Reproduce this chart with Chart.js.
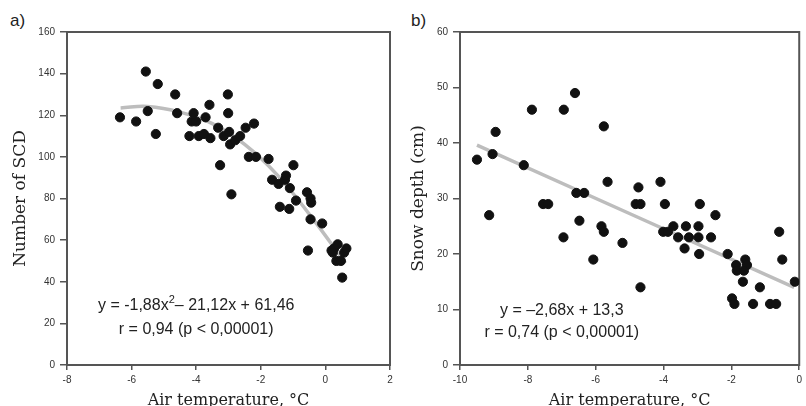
<!DOCTYPE html>
<html>
<head>
<meta charset="utf-8">
<script src="https://cdn.jsdelivr.net/npm/chart.js@4.4.0/dist/chart.umd.min.js"></script>
<style>
body { margin: 0; background: #fff; width: 806px; height: 406px; overflow: hidden; position: relative; font-family: "Liberation Sans", Arial, sans-serif; }
canvas { position: absolute; top: 0; }
#chartA { left: 0; }
#chartB { left: 400px; }
.tag { position: absolute; font-size: 17px; color: #222; }
</style>
</head>
<body>
<div class="tag" style="left:10px;top:11px">a)</div>
<div class="tag" style="left:411px;top:11px">b)</div>
<canvas id="chartA" width="400" height="406"></canvas>
<canvas id="chartB" width="406" height="406"></canvas>
<script>
// panel a: number of snow cover days vs air temperature
const tempA = [-6.36, -5.86, -5.56, -5.50, -5.25, -5.19, -4.65, -4.59, -4.21, -4.14,
  -4.08, -4.00, -3.92, -3.76, -3.71, -3.59, -3.56, -3.32, -3.26, -3.15,
  -3.02, -3.01, -2.98, -2.95, -2.91, -2.79, -2.64, -2.47, -2.37, -2.21,
  -2.15, -1.76, -1.65, -1.45, -1.41, -1.25, -1.22, -1.12, -1.10, -0.99,
  -0.91, -0.57, -0.46, -0.44, -0.46, -0.10, -0.54, 0.19, 0.27, 0.38,
  0.23, 0.34, 0.48, 0.58, 0.65, 0.52]
const scdA = [119, 117, 141, 122, 111, 135, 130, 121, 110, 117,
  121, 117, 110, 111, 119, 125, 109, 114, 96, 110,
  130, 121, 112, 106, 82, 108, 110, 114, 100, 116,
  100, 99, 89, 87, 76, 89, 91, 75, 85, 96,
  79, 83, 80, 78, 70, 68, 55, 55, 56, 58,
  54, 50, 50, 54, 56, 42]
// fitted curve
const curveAX = [-6.34, -5.5, -4.5, -3.5, -2.5, -1.5, -0.5, 0.62]
const curveAY = [123.5, 124.2, 121.5, 116, 106, 91.5, 72.5, 49]
const eqA = ['y = -1,88x', '2', '– 21,12x + 61,46']
const rA = 'r = 0,94 (p < 0,00001)'

// panel b: snow depth vs air temperature
const tempB = [-9.50, -9.14, -9.04, -8.95, -8.12, -7.88, -7.55, -7.40, -6.94, -6.61,
  -6.57, -6.34, -6.48, -5.76, -5.65, -6.95, -5.83, -5.76, -6.07, -5.21,
  -4.82, -4.74, -4.68, -4.68, -4.09, -3.96, -4.01, -3.87, -3.71, -3.57,
  -3.38, -3.34, -3.25, -2.97, -2.97, -2.95, -2.93, -2.60, -2.47, -2.11,
  -1.86, -1.84, -1.59, -1.54, -1.63, -1.66, -1.98, -1.91, -1.36, -1.16,
  -0.86, -0.68, -0.59, -0.50, -0.13]
const depthB = [37, 27, 38, 42, 36, 46, 29, 29, 46, 49,
  31, 31, 26, 43, 33, 23, 25, 24, 19, 22,
  29, 32, 29, 14, 33, 29, 24, 24, 25, 23,
  21, 25, 23, 25, 23, 20, 29, 23, 27, 20,
  18, 17, 19, 18, 17, 15, 12, 11, 11, 14,
  11, 11, 24, 19, 15]
const lineBX = [-9.5, -0.15]
const lineBY = [39.6, 14.0]
const eqB = ['y = –2,68x + 13,3']
const rB = 'r = 0,74 (p < 0,00001)'

const toPoints = (xs, ys) => xs.map((x, i) => ({ x: x, y: ys[i] }))

// frame round the plot area + the equation text
const boxAndText = {
  id: 'boxAndText',
  beforeDatasetsDraw(chart) {
    const { ctx, chartArea: a } = chart
    ctx.save()
    ctx.strokeStyle = '#555'
    ctx.lineWidth = 2
    ctx.strokeRect(a.left, a.top, a.right - a.left, a.bottom - a.top)
    ctx.restore()
  },
  afterDatasetsDraw(chart, args, opts) {
    const { ctx, scales } = chart
    ctx.save()
    ctx.fillStyle = '#222'
    ctx.textBaseline = 'middle'
    const big = '16px "Liberation Sans", Arial, sans-serif'
    const small = '11px "Liberation Sans", Arial, sans-serif'
    opts.lines.forEach(line => {
      const cx = scales.x.getPixelForValue(line.x)
      const cy = scales.y.getPixelForValue(line.y)
      const widths = line.parts.map((p, i) => {
        ctx.font = i % 2 ? small : big
        return ctx.measureText(p).width
      })
      let x = cx - widths.reduce((s, w) => s + w, 0) / 2
      line.parts.forEach((p, i) => {
        ctx.font = i % 2 ? small : big
        ctx.fillText(p, x, i % 2 ? cy - 6 : cy)
        x += widths[i]
      })
    })
    ctx.restore()
  }
}

const tickFont = { family: '"Liberation Sans", Arial, sans-serif', size: 10 }
const titleFont = { family: '"DejaVu Serif", serif', size: 16 }

function makeChart(id, cfg) {
  return new Chart(document.getElementById(id), {
    type: 'scatter',
    data: {
      datasets: [{
        data: cfg.points,
        backgroundColor: '#111',
        borderColor: '#111',
        pointRadius: 4.6,
        pointHoverRadius: 4.6,
        order: 0
      }, {
        data: cfg.fit,
        showLine: true,
        borderColor: '#bdbdbd',
        borderWidth: 3.5,
        pointRadius: 0,
        tension: 0.4,
        order: 1
      }]
    },
    options: {
      responsive: false,
      animation: false,
      layout: { padding: { left: 0, right: cfg.padRight, top: 32, bottom: 0 } },
      plugins: {
        legend: { display: false },
        tooltip: { enabled: false },
        boxAndText: { lines: cfg.lines }
      },
      scales: {
        x: {
          type: 'linear',
          min: cfg.xMin, max: cfg.xMax,
          ticks: { stepSize: 2, font: tickFont, color: '#333', padding: 4 },
          grid: { drawOnChartArea: false, tickLength: 5, color: '#555', lineWidth: 1.5 },
          border: { display: false },
          title: { display: true, text: 'Air temperature, °C', font: titleFont, color: '#222', padding: { top: 0, bottom: -4 } },
          afterFit: s => { s.height = 41 }
        },
        y: {
          min: 0, max: cfg.yMax,
          ticks: { stepSize: cfg.yStep, font: tickFont, color: '#333', padding: 5 },
          grid: { drawOnChartArea: false, tickLength: 7, color: '#555', lineWidth: 1.5 },
          border: { display: false },
          title: { display: true, text: cfg.yTitle, font: { family: '"DejaVu Serif", serif', size: 17 }, color: '#222', padding: { top: cfg.titlePad, bottom: 0 } },
          afterFit: s => { s.width = cfg.yWidth }
        }
      }
    },
    plugins: [boxAndText]
  })
}

makeChart('chartA', {
  points: toPoints(tempA, scdA),
  fit: toPoints(curveAX, curveAY),
  lines: [{ x: -4.0, y: 28.6, parts: eqA }, { x: -4.0, y: 17.0, parts: [rA] }],
  xMin: -8, xMax: 2, yMax: 160, yStep: 20,
  yTitle: 'Number of SCD', titlePad: 10, yWidth: 67, padRight: 10
})

makeChart('chartB', {
  points: toPoints(tempB, depthB),
  fit: toPoints(lineBX, lineBY),
  lines: [{ x: -7.0, y: 9.8, parts: eqB }, { x: -7.0, y: 5.8, parts: [rB] }],
  xMin: -10, xMax: 0, yMax: 60, yStep: 10,
  yTitle: 'Snow depth (cm)', titlePad: 8, yWidth: 60, padRight: 6
})
</script>
</body>
</html>
